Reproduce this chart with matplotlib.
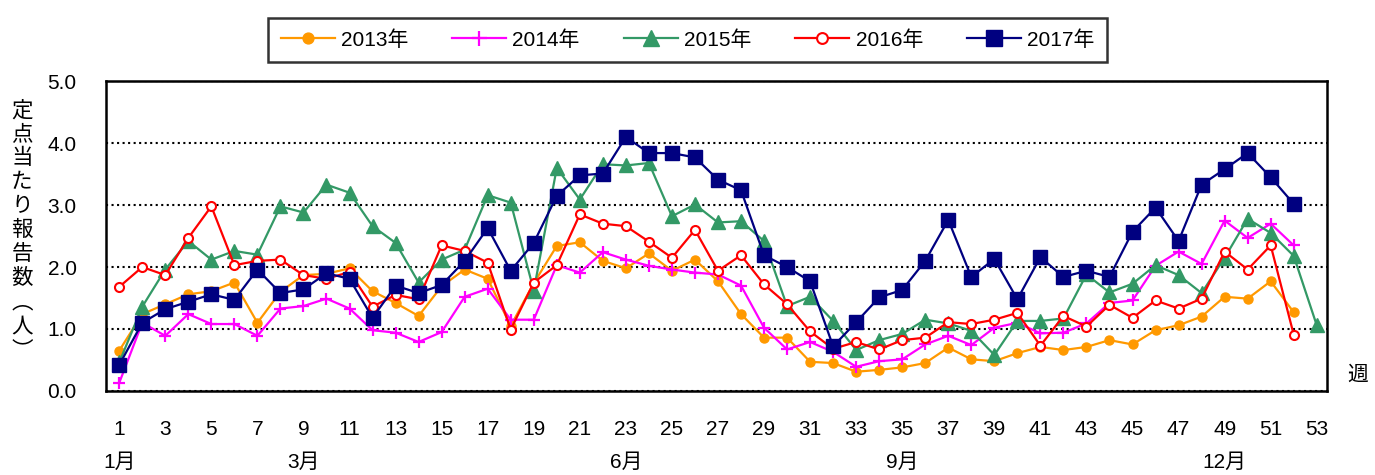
import numpy as np
import matplotlib
matplotlib.use("Agg")
import matplotlib.pyplot as plt
import matplotlib.transforms as mtransforms

plt.rcParams['font.family'] = ['Liberation Sans Narrow', 'Liberation Sans', 'Noto Sans CJK JP']

# weekly values
y2013 = [0.65, 1.24, 1.40, 1.56, 1.61, 1.75, 1.10, 1.60, 1.87, 1.89, 1.98, 1.61, 1.42,
         1.21, 1.69, 1.96, 1.81, 1.05, 1.74, 2.34, 2.40, 2.10, 1.98, 2.22, 1.94, 2.12,
         1.77, 1.24, 0.86, 0.86, 0.47, 0.45, 0.31, 0.34, 0.38, 0.45, 0.70, 0.51, 0.48,
         0.61, 0.71, 0.66, 0.71, 0.82, 0.75, 0.98, 1.06, 1.20, 1.52, 1.49, 1.77, 1.27]
y2014 = [0.13, 1.10, 0.89, 1.24, 1.08, 1.08, 0.89, 1.33, 1.37, 1.49, 1.33, 0.98, 0.94,
         0.79, 0.95, 1.52, 1.65, 1.15, 1.15, 2.03, 1.91, 2.24, 2.12, 2.02, 1.96, 1.91,
         1.88, 1.70, 1.02, 0.67, 0.79, 0.63, 0.39, 0.48, 0.51, 0.75, 0.89, 0.74, 1.02,
         1.10, 0.93, 0.94, 1.09, 1.42, 1.46, 2.02, 2.25, 2.05, 2.75, 2.47, 2.70, 2.35]
y2015 = [0.46, 1.36, 1.96, 2.42, 2.12, 2.26, 2.20, 2.98, 2.88, 3.33, 3.20, 2.66, 2.39,
         1.75, 2.12, 2.28, 3.16, 3.04, 1.62, 3.60, 3.09, 3.66, 3.64, 3.68, 2.82, 3.01,
         2.72, 2.74, 2.42, 1.37, 1.52, 1.13, 0.66, 0.82, 0.92, 1.15, 1.09, 0.97, 0.58,
         1.13, 1.13, 1.17, 1.88, 1.59, 1.73, 2.03, 1.87, 1.58, 2.15, 2.78, 2.55, 2.18, 1.06]
y2016 = [1.68, 2.00, 1.87, 2.47, 2.98, 2.03, 2.10, 2.12, 1.87, 1.81, 1.92, 1.36, 1.55,
         1.48, 2.35, 2.26, 2.07, 0.99, 1.75, 2.03, 2.85, 2.70, 2.66, 2.41, 2.15, 2.60,
         1.94, 2.19, 1.72, 1.40, 0.96, 0.68, 0.79, 0.67, 0.82, 0.86, 1.11, 1.08, 1.15,
         1.26, 0.73, 1.21, 1.04, 1.39, 1.18, 1.46, 1.33, 1.49, 2.25, 1.96, 2.35, 0.91]
y2017 = [0.42, 1.10, 1.32, 1.44, 1.56, 1.47, 1.96, 1.58, 1.64, 1.90, 1.81, 1.18, 1.70,
         1.58, 1.71, 2.10, 2.63, 1.94, 2.39, 3.15, 3.48, 3.51, 4.10, 3.84, 3.84, 3.77,
         3.41, 3.24, 2.19, 2.00, 1.77, 0.72, 1.11, 1.51, 1.63, 2.10, 2.76, 1.84, 2.13,
         1.48, 2.16, 1.84, 1.94, 1.84, 2.57, 2.96, 2.42, 3.33, 3.58, 3.84, 3.45, 3.02]

labels = ['2013年', '2014年', '2015年', '2016年', '2017年']
month_weeks = [1, 9, 23, 35, 49]
month_labels = ['1月', '3月', '6月', '9月', '12月']
ylabel_chars = ['定', '点', '当', 'た', 'り', '報', '告', '数', '︵', '人', '︶']

fig = plt.figure(figsize=(13.75, 4.75), dpi=100)
ax = fig.add_axes([0.077, 0.177, 0.888, 0.652])

def weeks(vals):
    return np.arange(1, len(vals) + 1)

ax.plot(weeks(y2013), y2013, '-o', color='#FF9900', lw=1.6, ms=6.5, label=labels[0])
ax.plot(weeks(y2014), y2014, '-+', color='#FF00FF', lw=1.6, ms=9, mew=1.6, label=labels[1])
ax.plot(weeks(y2015), y2015, '-^', color='#339966', lw=1.6, ms=9.5, label=labels[2])
ax.plot(weeks(y2016), y2016, '-o', color='#FF0000', lw=1.6, ms=6.5, mfc='white',
        mew=1.5, label=labels[3])
ax.plot(weeks(y2017), y2017, '-s', color='#000080', lw=1.6, ms=9.5, label=labels[4])

ax.set_xlim(0.42, 53.44)
ax.set_ylim(0, 5)
ax.set_yticks(np.arange(0, 5.01, 1))
ax.set_yticklabels([f'{v:.1f}' for v in np.arange(0, 5.01, 1)], fontsize=15)
ax.set_xticks(np.arange(1, 54, 2))
ax.set_xticklabels([str(w) for w in range(1, 54, 2)], fontsize=15)
ax.tick_params(axis='x', length=0, pad=21)
ax.tick_params(axis='y', length=0, pad=21)
ax.grid(axis='y', color='black', linestyle=':', lw=1.5)
for s in ax.spines.values():
    s.set_linewidth(1.8)
    s.set_color('black')

trans = mtransforms.blended_transform_factory(ax.transData, ax.transAxes)
for w, m in zip(month_weeks, month_labels):
    ax.text(w, -0.23, m, transform=trans, ha='center', va='center', fontsize=15)

ax.text(1.025, 0.05, '週', transform=ax.transAxes, ha='center', va='center', fontsize=15)
fig.text(0.016, 0.515, '\n'.join(ylabel_chars), ha='center', va='center', fontsize=15.5,
         linespacing=1.12, family=['Noto Sans CJK JP', 'DejaVu Sans'])

leg = fig.legend(loc='upper center', bbox_to_anchor=(0.5, 0.985), ncol=5, fontsize=15,
                 frameon=True, fancybox=False, edgecolor='black', handlelength=2.6,
                 columnspacing=2.1, handletextpad=0.3, borderpad=0.6, markerscale=1.2)
leg.get_frame().set_linewidth(1.8)

fig.savefig('out.png', dpi=100)
